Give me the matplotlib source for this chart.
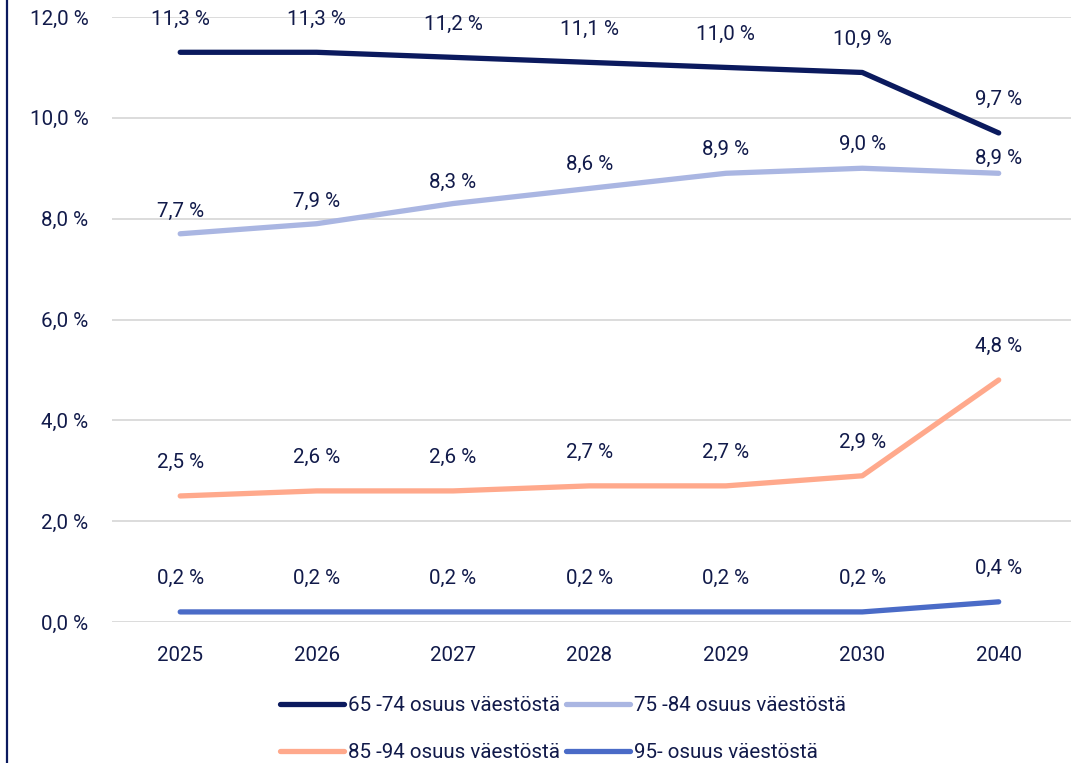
import matplotlib
matplotlib.use("Agg")
import matplotlib.pyplot as plt
from matplotlib.lines import Line2D

years = ["2025", "2026", "2027", "2028", "2029", "2030", "2040"]
s65_74 = [11.3, 11.3, 11.2, 11.1, 11.0, 10.9, 9.7]
s75_84 = [7.7, 7.9, 8.3, 8.6, 8.9, 9.0, 8.9]
s85_94 = [2.5, 2.6, 2.6, 2.7, 2.7, 2.9, 4.8]
s95 = [0.2, 0.2, 0.2, 0.2, 0.2, 0.2, 0.4]
labels = ["65 -74 osuus väestöstä", "75 -84 osuus väestöstä",
          "85 -94 osuus väestöstä", "95- osuus väestöstä"]
yticks = [0, 2, 4, 6, 8, 10, 12]

colors = ["#0B1A5E", "#AAB6E2", "#FFA98C", "#4A6BC7"]
txt = "#111A4A"
plt.rcParams['font.family'] = ['Roboto', 'DejaVu Sans']
fs = 14.8

fig = plt.figure(figsize=(10.71, 7.63), dpi=100)
ax = fig.add_axes([112/1071, 1-622/763, (1071-112)/1071, (622-17)/763])
x = list(range(len(years)))
series = [s65_74, s75_84, s85_94, s95]
offsets = [[24]*7, [16, 16, 15, 17, 17, 17, 11], [24]*7, [24]*7]
for s, c, lab, off in zip(series, colors, labels, offsets):
    ax.plot(x, s, color=c, lw=3.8, solid_capstyle='round', label=lab, zorder=3)
    for xi, v, o in zip(x, s, off):
        ax.annotate(f"{v:.1f} %".replace(".", ","), (xi, v), xytext=(0, o),
                    textcoords='offset points', ha='center', va='center',
                    fontsize=fs, color=txt)

ax.set_xlim(-0.5, len(years) - 0.5 + 0.03)
ax.set_ylim(0, 12)
ax.set_yticks(yticks)
ax.set_yticklabels([f"{t:.1f} %".replace(".", ",") for t in yticks])
ax.set_xticks(x)
ax.set_xticklabels(years)
ax.tick_params(axis='y', length=0, pad=17, labelsize=fs, labelcolor=txt)
ax.tick_params(axis='x', length=0, pad=17, labelsize=fs, labelcolor=txt)
ax.grid(axis='y', color='#D9D9D9', lw=1.3)
ax.set_axisbelow(True)
for sp in ax.spines.values():
    sp.set_visible(False)
for l in ax.lines:
    l.set_clip_on(False)

handles = [Line2D([], [], color=c, lw=3.8, solid_capstyle='round') for c in colors]
order = [0, 2, 1, 3]
fig.legend([handles[i] for i in order], [labels[i] for i in order],
           loc='center', bbox_to_anchor=(563/1071, 1-729/763),
           ncol=2, frameon=False, fontsize=fs, labelcolor=txt,
           handlelength=3.1, handletextpad=0.2, columnspacing=0.3,
           labelspacing=1.35)

fig.add_artist(Line2D([7/1071, 7/1071], [0, 1], color="#0B1A5E", lw=1.6))

fig.savefig("out.png", dpi=100)
